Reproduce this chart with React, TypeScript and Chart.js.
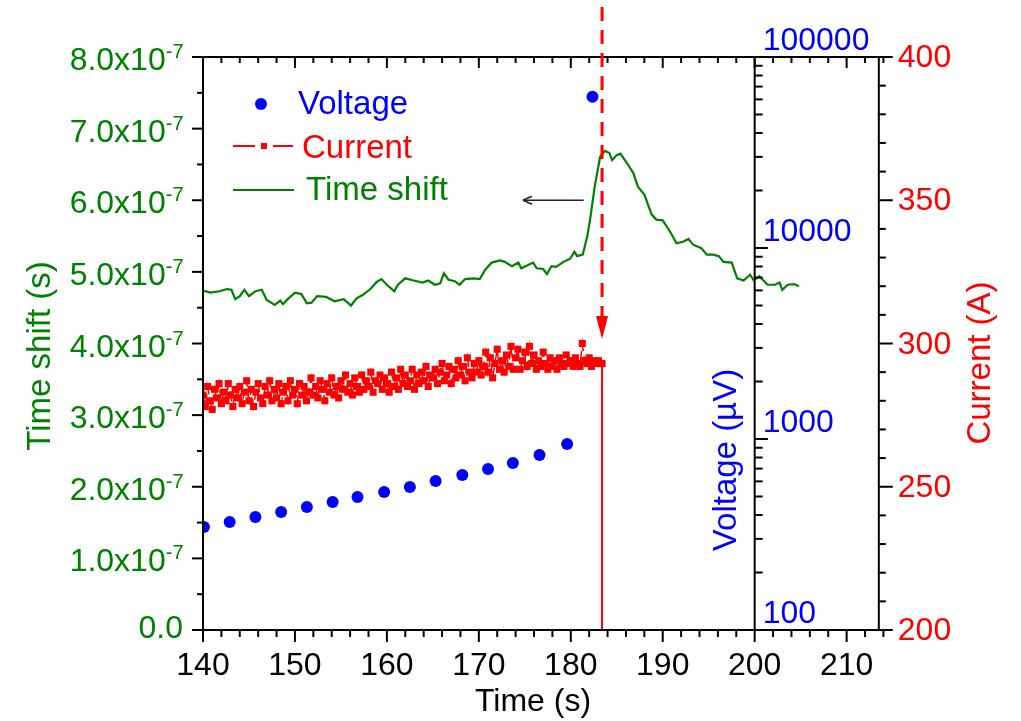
import React, { useEffect, useRef } from "react";
import { Chart, registerables } from "chart.js";

Chart.register(...registerables);

const FONT = "'Liberation Sans', Arial, Helvetica, sans-serif";
const GREEN = "#008000";
const RED = "#ff0000";
const BLUE = "#0000ff";

// ---- axis ticks / labels ----
const xTicks = [140, 150, 160, 170, 180, 190, 200, 210];
const timeShiftTicks = [0, 1e-7, 2e-7, 3e-7, 4e-7, 5e-7, 6e-7, 7e-7, 8e-7];
const timeShiftTickMantissas = ["0.0", "1.0", "2.0", "3.0", "4.0", "5.0", "6.0", "7.0", "8.0"];
const voltageTicks = [100, 1000, 10000, 100000];
const voltageTickLabels = ["100", "1000", "10000", "100000"];
const currentTicks = [200, 250, 300, 350, 400];
const currentTickLabels = ["200", "250", "300", "350", "400"];

// ---- Time shift series (s) ----
const timeShiftTimes = [
  140.0, 140.8, 141.8, 142.6, 143.1, 143.5, 144.0, 144.5, 145.0, 145.7, 146.4, 146.9, 147.8, 148.4, 148.7,
  149.3, 150.0, 150.7, 151.3, 151.8, 152.4, 153.4, 154.3, 155.3, 156.1, 156.7, 157.4, 158.2, 158.9, 159.4,
  160.0, 160.8, 161.2, 162.0, 162.9, 163.9, 164.5, 165.2, 165.8, 166.2, 166.7, 167.4, 167.9, 168.5, 169.4,
  170.1, 170.7, 171.4, 172.3, 172.8, 173.6, 174.3, 174.6, 175.9, 176.3, 177.0, 177.4, 177.9, 178.4, 179.2,
  179.9, 180.4, 180.7, 181.3, 181.8, 182.1, 182.6, 183.2, 183.7, 184.2, 184.5, 185.0, 185.4, 186.1, 186.8,
  187.3, 188.0, 188.8, 189.3, 190.0, 190.8, 191.5, 192.2, 192.8, 193.3, 194.2, 194.8, 195.5, 196.1, 196.6,
  197.5, 198.1, 198.8, 199.5, 199.9, 200.5, 201.4, 202.2, 202.7, 203.0, 203.6, 204.3, 204.8,
];
const timeShiftValues = [
  4.74e-7, 4.71e-7, 4.73e-7, 4.76e-7, 4.75e-7, 4.62e-7, 4.66e-7, 4.75e-7, 4.66e-7, 4.73e-7, 4.75e-7, 4.61e-7, 4.54e-7, 4.6e-7, 4.55e-7,
  4.63e-7, 4.71e-7, 4.69e-7, 4.56e-7, 4.57e-7, 4.66e-7, 4.65e-7, 4.59e-7, 4.62e-7, 4.53e-7, 4.63e-7, 4.68e-7, 4.76e-7, 4.86e-7, 4.9e-7,
  4.82e-7, 4.73e-7, 4.82e-7, 4.91e-7, 4.88e-7, 4.85e-7, 4.88e-7, 4.82e-7, 4.84e-7, 4.98e-7, 4.89e-7, 4.87e-7, 4.82e-7, 4.9e-7, 4.91e-7,
  4.9e-7, 5.03e-7, 5.13e-7, 5.16e-7, 5.14e-7, 5.08e-7, 5.13e-7, 5.05e-7, 5.13e-7, 5.05e-7, 5.04e-7, 4.97e-7, 5.08e-7, 5.07e-7, 5.14e-7,
  5.18e-7, 5.28e-7, 5.22e-7, 5.24e-7, 5.5e-7, 5.73e-7, 6.19e-7, 6.61e-7, 6.69e-7, 6.66e-7, 6.56e-7, 6.63e-7, 6.65e-7, 6.52e-7, 6.38e-7,
  6.19e-7, 6.08e-7, 5.8e-7, 5.73e-7, 5.72e-7, 5.56e-7, 5.4e-7, 5.42e-7, 5.46e-7, 5.38e-7, 5.33e-7, 5.24e-7, 5.24e-7, 5.22e-7, 5.14e-7,
  5.13e-7, 4.91e-7, 4.88e-7, 4.96e-7, 4.88e-7, 4.94e-7, 4.82e-7, 4.82e-7, 4.85e-7, 4.75e-7, 4.82e-7, 4.83e-7, 4.8e-7,
];

// ---- Current series (A) ----
const currentTimes = [
  140, 140.25, 140.5, 140.75, 141, 141.25, 141.5, 141.75,
  142, 142.25, 142.5, 142.75, 143, 143.25, 143.5, 143.75,
  144, 144.25, 144.5, 144.75, 145, 145.25, 145.5, 145.75,
  146, 146.25, 146.5, 146.75, 147, 147.25, 147.5, 147.75,
  148, 148.25, 148.5, 148.75, 149, 149.25, 149.5, 149.75,
  150, 150.25, 150.5, 150.75, 151, 151.25, 151.5, 151.75,
  152, 152.25, 152.5, 152.75, 153, 153.25, 153.5, 153.75,
  154, 154.25, 154.5, 154.75, 155, 155.25, 155.5, 155.75,
  156, 156.25, 156.5, 156.75, 157, 157.25, 157.5, 157.75,
  158, 158.25, 158.5, 158.75, 159, 159.25, 159.5, 159.75,
  160, 160.25, 160.5, 160.75, 161, 161.25, 161.5, 161.75,
  162, 162.25, 162.5, 162.75, 163, 163.25, 163.5, 163.75,
  164, 164.25, 164.5, 164.75, 165, 165.25, 165.5, 165.75,
  166, 166.25, 166.5, 166.75, 167, 167.25, 167.5, 167.75,
  168, 168.25, 168.5, 168.75, 169, 169.25, 169.5, 169.75,
  170, 170.25, 170.5, 170.75, 171, 171.25, 171.5, 171.75,
  172, 172.25, 172.5, 172.75, 173, 173.25, 173.5, 173.75,
  174, 174.25, 174.5, 174.75, 175, 175.25, 175.5, 175.75,
  176, 176.25, 176.5, 176.75, 177, 177.25, 177.5, 177.75,
  178, 178.25, 178.5, 178.75, 179, 179.25, 179.5, 179.75,
  180, 180.25, 180.5, 180.75, 181, 181.25, 181.5, 181.75,
  182, 182.25, 182.5, 182.75, 183, 183.25, 183.4,
];
const currentValues = [
  282, 278, 285, 280, 277, 284, 281, 286,
  279, 283, 280, 286, 282, 278, 284, 281,
  285, 279, 283, 287, 280, 284, 278, 283,
  286, 281, 279, 285, 282, 287, 280, 284,
  281, 286, 279, 283, 285, 280, 287, 282,
  284, 279, 286, 282, 285, 280, 283, 288,
  282, 285, 281, 287, 284, 280, 286, 283,
  288, 282, 285, 281, 287, 284, 289, 283,
  286, 282, 288, 285, 283, 289, 284, 287,
  285, 290, 283, 287, 286, 289, 284, 288,
  286, 283, 290, 285, 288, 284, 291, 286,
  289, 285, 287, 291, 284, 289, 286, 290,
  287, 292, 285, 289, 288, 291, 286, 290,
  293, 287, 289, 292, 286, 291, 288, 294,
  289, 292, 287, 295, 290, 288, 293, 290,
  294, 289, 292, 297, 290, 295, 288, 293,
  298, 291, 294, 290, 296, 292, 299, 291,
  295, 298, 291, 294, 297, 292, 299, 293,
  296, 291, 294, 292, 297, 293, 291, 295,
  292, 294, 291, 295, 293, 292, 296, 293,
  294, 292, 295, 293, 292, 300, 294, 293,
  295, 292, 294, 293, 294, 293, 293,
];
const quenchTime = 183.4;
const currentDropValues = [293, 150];

// ---- Voltage series (µV) ----
const voltageTimes = [140.1, 142.9, 145.7, 148.5, 151.3, 154.1, 156.8, 159.7, 162.5, 165.3, 168.2, 171.0, 173.7, 176.6, 179.6, 182.36];
const voltageValues = [346, 368, 391, 415, 440, 468, 497, 528, 561, 603, 648, 696, 748, 824, 941, 62000];

// ---- annotation arrow (points left, toward the time shift axis) ----
const arrowFrom = { t: 181.4, v: 6.0e-7 };
const arrowTo = { t: 174.8, v: 6.0e-7 };

const X_MIN = 140;
const X_MAX = 214.5;
const VOLT_AXIS_AT = 200;
const CURRENT_AXIS_AT = 213.5;

function font(size: number) {
  return `${size}px ${FONT}`;
}

const customPlugin = {
  id: "customAxes",
  afterDraw(chart: any) {
    const ctx: CanvasRenderingContext2D = chart.ctx;
    const xs = chart.scales.x;
    const ys = chart.scales.y;
    const yV = chart.scales.yV;
    const yC = chart.scales.yC;
    const a = chart.chartArea;
    const px = (v: number) => xs.getPixelForValue(v);
    const top = a.top;
    const bottom = a.bottom;
    const left = a.left;
    const right = a.right;

    ctx.save();
    ctx.strokeStyle = "#000";
    ctx.lineWidth = 2;
    ctx.lineCap = "butt";

    const line = (x1: number, y1: number, x2: number, y2: number) => {
      ctx.beginPath();
      ctx.moveTo(x1, y1);
      ctx.lineTo(x2, y2);
      ctx.stroke();
    };

    // frame lines
    line(left, top, right, top);
    line(left, bottom, right, bottom);
    line(left, top - 1, left, bottom + 1);

    // x ticks (bottom outward, top inward)
    for (let t = 140; t <= 214; t += 2) {
      const major = t % 10 === 0;
      const x = px(t);
      line(x, bottom, x, bottom + (major ? 12 : 7));
      line(x, top, x, top + (major ? 11 : 6));
    }
    // x tick labels
    ctx.fillStyle = "#000";
    ctx.font = font(32);
    ctx.textAlign = "center";
    ctx.textBaseline = "alphabetic";
    xTicks.forEach((t) => ctx.fillText(String(t), px(t), bottom + 45));
    // x title
    ctx.fillText("Time (s)", 533, 711);

    // left axis ticks
    for (let k = 0; k <= 16; k++) {
      const v = k * 0.5e-7;
      const y = ys.getPixelForValue(v);
      const major = k % 2 === 0;
      line(left, y, left - (major ? 11 : 6), y);
    }
    // left labels
    ctx.fillStyle = GREEN;
    timeShiftTicks.forEach((v, i) => {
      const y = ys.getPixelForValue(v);
      const m = timeShiftTickMantissas[i];
      ctx.textAlign = "right";
      if (v === 0) {
        ctx.font = font(32);
        ctx.fillText(m, 183, y + 8);
      } else {
        ctx.font = font(20);
        ctx.fillText("-7", 183.5, y + 1);
        const supW = ctx.measureText("-7").width;
        ctx.font = font(32);
        ctx.fillText(m + "x10", 183.5 - supW, y + 13);
      }
    });
    // left title
    ctx.save();
    ctx.translate(50, 356);
    ctx.rotate(-Math.PI / 2);
    ctx.font = font(33);
    ctx.textAlign = "center";
    ctx.fillStyle = GREEN;
    ctx.fillText("Time shift (s)", 0, 0);
    ctx.restore();

    // voltage axis
    const xv = px(VOLT_AXIS_AT);
    ctx.strokeStyle = "#000";
    line(xv, top - 1, xv, bottom + 1);
    for (let dec = 100; dec < 100000; dec *= 10) {
      for (let m = 1; m <= 10; m++) {
        const v = dec * m;
        const y = yV.getPixelForValue(v);
        const major = m === 1 || m === 10;
        line(xv, y, xv + (major ? 13 : 8), y);
      }
    }
    ctx.fillStyle = BLUE;
    ctx.font = font(32);
    ctx.textAlign = "left";
    voltageTicks.forEach((v, i) => {
      const y = yV.getPixelForValue(v);
      ctx.fillText(voltageTickLabels[i], xv + 8, y - 7);
    });
    ctx.save();
    ctx.translate(736, 460);
    ctx.rotate(-Math.PI / 2);
    ctx.font = font(33);
    ctx.textAlign = "center";
    ctx.fillStyle = BLUE;
    ctx.fillText("Voltage (\u00b5V)", 0, 0);
    ctx.restore();

    // current axis
    const xc = px(CURRENT_AXIS_AT);
    line(xc, top - 1, xc, bottom + 1);
    for (let c = 200; c <= 400; c += 10) {
      const y = yC.getPixelForValue(c);
      const major = c % 50 === 0;
      line(xc, y, xc + (major ? 14 : 7), y);
    }
    ctx.fillStyle = RED;
    ctx.font = font(32);
    ctx.textAlign = "left";
    currentTicks.forEach((c, i) => {
      const y = yC.getPixelForValue(c);
      ctx.fillText(currentTickLabels[i], xc + 19, y + 10);
    });
    ctx.save();
    ctx.translate(990, 363);
    ctx.rotate(-Math.PI / 2);
    ctx.font = font(33);
    ctx.textAlign = "center";
    ctx.fillStyle = RED;
    ctx.fillText("Current (A)", 0, 0);
    ctx.restore();

    // dashed red quench arrow
    const xq = px(quenchTime);
    ctx.strokeStyle = RED;
    ctx.lineWidth = 3;
    ctx.setLineDash([14, 9]);
    line(xq, 7, xq, 318);
    ctx.setLineDash([]);
    ctx.fillStyle = RED;
    ctx.beginPath();
    ctx.moveTo(xq - 6, 316);
    ctx.lineTo(xq + 6, 316);
    ctx.lineTo(xq, 339);
    ctx.closePath();
    ctx.fill();

    // black arrow
    const ax1 = px(arrowFrom.t);
    const ay1 = ys.getPixelForValue(arrowFrom.v);
    const ax2 = px(arrowTo.t);
    const ay2 = ys.getPixelForValue(arrowTo.v);
    ctx.strokeStyle = "#222";
    ctx.lineWidth = 1.5;
    line(ax1, ay1, ax2, ay2);
    line(ax2, ay2, ax2 + 9, ay2 - 4);
    line(ax2, ay2, ax2 + 9, ay2 + 4);

    // legend
    ctx.fillStyle = BLUE;
    ctx.beginPath();
    ctx.arc(261, 104, 6, 0, Math.PI * 2);
    ctx.fill();
    ctx.font = font(33);
    ctx.textAlign = "left";
    ctx.fillText("Voltage", 298, 114);

    ctx.strokeStyle = RED;
    ctx.lineWidth = 2;
    line(233, 146, 255, 146);
    line(273, 146, 293, 146);
    ctx.fillStyle = RED;
    ctx.fillRect(261, 143, 6, 6);
    ctx.fillText("Current", 302, 158);

    ctx.strokeStyle = GREEN;
    ctx.lineWidth = 2;
    line(233, 190, 294, 190);
    ctx.fillStyle = GREEN;
    ctx.fillText("Time shift", 306, 200);

    ctx.restore();
  },
};

export default function App() {
  const ref = useRef<HTMLCanvasElement | null>(null);

  useEffect(() => {
    if (!ref.current) return;
    const timeShiftData = timeShiftTimes.map((t, i) => ({ x: t, y: timeShiftValues[i] }));
    const currentData = currentTimes.map((t, i) => ({ x: t, y: currentValues[i] }));
    const dropData = currentDropValues.map((v) => ({ x: quenchTime, y: v }));
    const voltageData = voltageTimes.map((t, i) => ({ x: t, y: voltageValues[i] }));

    const chart = new Chart(ref.current, {
      type: "scatter",
      data: {
        datasets: [
          {
            label: "Time shift",
            data: timeShiftData,
            yAxisID: "y",
            showLine: true,
            borderColor: GREEN,
            borderWidth: 2.2,
            pointRadius: 0,
            tension: 0,
          },
          {
            label: "Current",
            data: currentData,
            yAxisID: "yC",
            showLine: true,
            borderColor: RED,
            backgroundColor: RED,
            borderWidth: 1.5,
            borderDash: [10, 5],
            pointStyle: "rect",
            pointRadius: 5,
            pointBorderWidth: 0,
          },
          {
            label: "Current drop",
            data: dropData,
            yAxisID: "yC",
            showLine: true,
            borderColor: RED,
            borderWidth: 2,
            pointRadius: 0,
          },
          {
            label: "Voltage",
            data: voltageData,
            yAxisID: "yV",
            showLine: false,
            backgroundColor: BLUE,
            borderColor: BLUE,
            pointRadius: 6,
            pointBorderWidth: 0,
          },
        ],
      },
      options: {
        responsive: false,
        animation: false,
        devicePixelRatio: 1,
        layout: { padding: { left: 203, right: 1021 - 888, top: 57, bottom: 721 - 630 } },
        plugins: { legend: { display: false }, tooltip: { enabled: false } },
        scales: {
          x: { type: "linear", min: X_MIN, max: X_MAX, display: false },
          y: { type: "linear", min: 0, max: 8e-7, display: false },
          yV: { type: "logarithmic", min: 100, max: 100000, display: false },
          yC: { type: "linear", min: 200, max: 400, display: false },
        },
      },
      plugins: [customPlugin],
    });
    return () => chart.destroy();
  }, []);

  return (
    <div style={{ position: "fixed", left: 0, top: 0, width: 1021, height: 721, background: "#fff" }}>
      <canvas ref={ref} width={1021} height={721} style={{ display: "block" }} />
    </div>
  );
}
